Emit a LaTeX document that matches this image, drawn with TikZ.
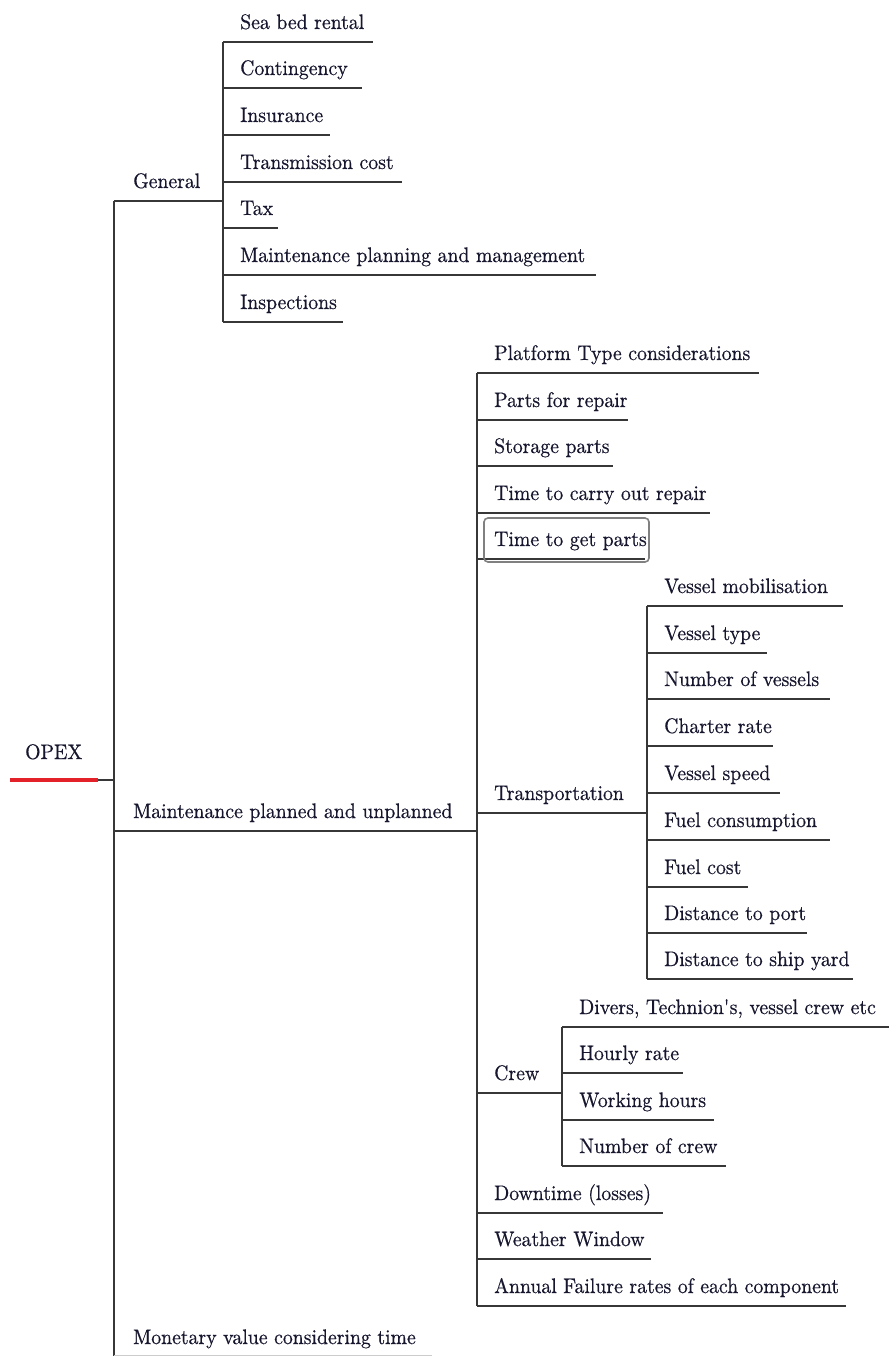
\documentclass[tikz,border=0pt]{standalone}
\usepackage{fontspec}
\newfontfamily\lmr{lmroman10-regular.otf}[FakeBold=0.5,FakeStretch=0.94]
\definecolor{txt}{RGB}{22,22,46}
\definecolor{lnc}{RGB}{55,55,55}
\definecolor{opexred}{RGB}{226,34,40}
\begin{document}
\begin{tikzpicture}[x=1pt,y=-1pt,
  lbl/.style={anchor=base west, inner sep=0pt, text=txt, font=\lmr\fontsize{21}{25}\selectfont},
  branch/.style={draw=lnc, line width=1.4pt},
  hilite/.style={draw=black!50, line width=1.6pt, rounded corners=4pt}]
\useasboundingbox (0,0) rectangle (888,1356);

% root
\node[lbl] (opex) at (25,759) {OPEX};
\draw[opexred, line width=4.5pt] (10,780) -- (98,780);
\draw[branch] (98,780) -- (114,780);
\draw[branch] (114,201) -- (114,1360);

% level 1
\node[lbl] (gen) at (133,188) {General};
\draw[branch] (114,201) -- (223,201);
\node[lbl] (maint) at (133,818) {Maintenance planned and unplanned};
\draw[branch] (114,831) -- (477,831);
\node[lbl] (mon) at (133,1344) {Monetary value considering time};
\draw[draw=black!20, line width=1pt] (114,1355.5) -- (432,1355.5);

% General children
\draw[branch] (223,42) -- (223,322);
\foreach \y/\xe/\t [count=\i] in {
  42/373/{Sea bed rental},
  88/362/{Contingency},
  135/330/{Insurance},
  182/402/{Transmission cost},
  228/278/{Tax},
  275/596/{Maintenance planning and management},
  322/343/{Inspections}}{
  \node[lbl] (g\i) at (240,\y-13) {\t};
  \draw[branch] (223,\y) -- (\xe,\y);
}

% Maintenance children
\draw[branch] (477,373) -- (477,1306);
\foreach \y/\xe/\t [count=\i] in {
  373/759/{Platform Type considerations},
  420/628/{Parts for repair},
  466/613/{Storage parts},
  513/710/{Time to carry out repair},
  559/645/{Time to get parts},
  1213/663/{Downtime (losses)},
  1259/651/{Weather Window},
  1306/846/{Annual Failure rates of each component}}{
  \node[lbl] (m\i) at (494,\y-13) {\t};
  \draw[branch] (477,\y) -- (\xe,\y);
}
\draw[hilite] (484,518) rectangle (649,562);

% Transportation
\node[lbl] (trans) at (494,800) {Transportation};
\draw[branch] (477,813) -- (647,813);
\draw[branch] (647,606) -- (647,979);
\foreach \y/\xe/\t [count=\i] in {
  606/843/{Vessel mobilisation},
  653/767/{Vessel type},
  699/830/{Number of vessels},
  746/773/{Charter rate},
  793/780/{Vessel speed},
  840/830/{Fuel consumption},
  887/748/{Fuel cost},
  933/807/{Distance to port},
  979/853/{Distance to ship yard}}{
  \node[lbl] (t\i) at (664,\y-13) {\t};
  \draw[branch] (647,\y) -- (\xe,\y);
}

% Crew
\node[lbl] (crew) at (494,1080) {Crew};
\draw[branch] (477,1093) -- (562,1093);
\draw[branch] (562,1027) -- (562,1166);
\foreach \y/\xe/\t [count=\i] in {
  1027/890/{Divers, Technion\textquotesingle s, vessel crew etc},
  1073/683/{Hourly rate},
  1120/714/{Working hours},
  1166/726/{Number of crew}}{
  \node[lbl] (c\i) at (579,\y-13) {\t};
  \draw[branch] (562,\y) -- (\xe,\y);
}
\end{tikzpicture}
\end{document}
